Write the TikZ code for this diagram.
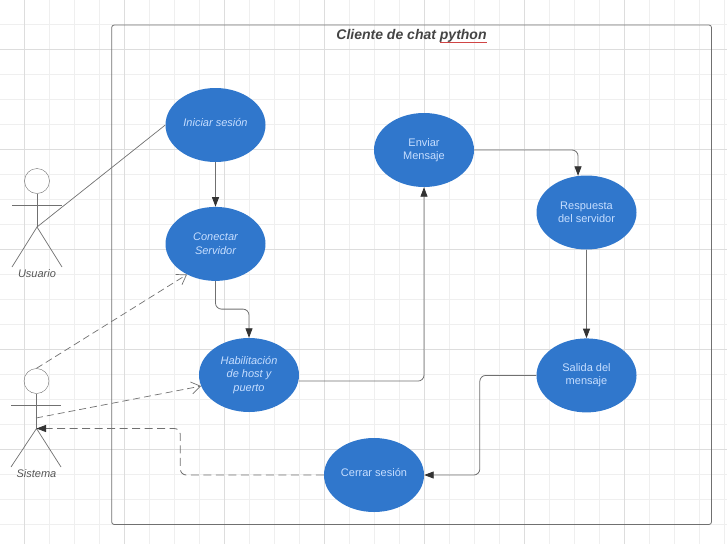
\documentclass[tikz,border=0pt]{standalone}
\usepackage{fontspec}
\setmainfont{Liberation Sans}
\usetikzlibrary{arrows.meta, positioning, shapes.geometric}
\definecolor{casoazul}{HTML}{3077CC}
\definecolor{casotexto}{HTML}{C6DEFF}
\definecolor{linea}{HTML}{707070}
\definecolor{punta}{HTML}{333333}
\definecolor{rotulo}{HTML}{555555}
\definecolor{titulo}{HTML}{444444}
\definecolor{subraya}{HTML}{D04545}
\definecolor{rejilla}{HTML}{EFEFEF}
\definecolor{rejillab}{HTML}{DDDDDD}
\newsavebox{\cajasub}
\newcommand{\subrojo}[1]{\sbox{\cajasub}{#1}\rlap{\textcolor{subraya}{\rule[-4pt]{\wd\cajasub}{0.9pt}}}\usebox{\cajasub}}
\tikzset{
    %Define style for use cases
    caso/.style={
           ellipse,
           fill=casoazul,
           text=casotexto,
           inner sep=0pt,
           minimum width=100pt,
           minimum height=74pt,
           align=center,
           font=\fontsize{11}{13.4}\selectfont},
    casoi/.style={
           caso,
           font=\fontsize{11}{13.4}\selectfont\itshape},
    % Define actor styles
    cabeza/.style={
           circle,
           draw=linea,
           inner sep=0pt,
           minimum size=25pt},
    actor/.style={
           draw=linea,
           line width=0.7pt},
    rotact/.style={
           text=rotulo,
           font=\fontsize{11}{13}\selectfont\itshape},
    % Define arrow styles
    flecha/.style={
           draw=linea,
           line width=0.8pt,
           rounded corners=6pt,
           -{Triangle[length=9.5pt,width=7pt,color=punta]}},
    abierta/.style={
           draw=linea,
           line width=0.7pt,
           dash pattern=on 7pt off 4pt,
           -{Straight Barb[length=9pt,width=12pt,color=linea]}},
    retorno/.style={
           flecha,
           dash pattern=on 8pt off 4.5pt}
}
\begin{document}
\begin{tikzpicture}[x=1pt, y=-1pt]
	\useasboundingbox (0,0) rectangle (727,544);
	%
	% rejilla
	%
	\foreach \gx in {24.5,49.5,...,724.5}
		\draw[rejilla, line width=1pt] (\gx,0) -- (\gx,544);
	\foreach \gy in {24.5,49.5,...,524.5}
		\draw[rejilla, line width=1pt] (0,\gy) -- (727,\gy);
	\foreach \gx in {24.5,124.5,...,624.5}
		\draw[rejillab, line width=1pt] (\gx,0) -- (\gx,544);
	\foreach \gy in {49.5,149.5,...,449.5}
		\draw[rejillab, line width=1pt] (0,\gy) -- (727,\gy);
	%
	% marco
	%
	\draw[linea, line width=0.8pt, rounded corners=2.5pt] (111.7,25) rectangle (711.5,524.5);
	\node[font=\fontsize{14}{16}\selectfont\bfseries\itshape, text=titulo] (tit) at (411.5,36) {Cliente de chat \subrojo{python}};
	%
	% casos
	%
	\node[casoi, text depth=5pt] (ini) at (215.5,125) {Iniciar sesión};
	\node[casoi, below=44.5pt of ini] (con) {Conectar\\Servidor};
	\node[casoi] (hab) at (249,375) {Habilitación\\de host y\\puerto};
	\node[caso] (env) at (424,150) {Enviar\\Mensaje};
	\node[caso] (res) at (586.5,212.5) {Respuesta\\del servidor};
	\node[caso, below=88.5pt of res] (sal) {Salida del\\mensaje};
	\node[caso, text depth=5pt] (cer) at (374,475) {Cerrar sesión};
	%
	% actores
	%
	\node[cabeza] (cabu) at (37,181) {};
	\coordinate (cadu) at (37,227);
	\draw[actor] (cabu) -- (cadu);
	\draw[actor] (12,205.5) -- (62,205.5);
	\draw[actor] (12,267) -- (cadu) -- (62,267);
	\node[rotact] (usu) at (37,274) {Usuario};
	\node[cabeza] (cabs) at (36.5,381) {};
	\coordinate (cads) at (36.5,428.5);
	\coordinate (toss) at (36,418);
	\draw[actor] (cabs) -- (cads);
	\draw[actor] (11,405.5) -- (61,405.5);
	\draw[actor] (11,467) -- (cads) -- (61,467);
	\node[rotact] (sis) at (36.5,474) {Sistema};
	%
	% enlaces
	%
	\draw[actor] (cadu) -- (ini.west);
	\draw[abierta] (cabs.north) -- (con.227);
	\draw[abierta] (toss) -- (hab.193);
	\draw[flecha] (ini) -- (con);
	\draw[flecha] (con.south) -- ++(0,28) -| (hab.north);
	\draw[flecha] (hab.-7) -| (env.south);
	\draw[flecha] (env.east) -| (res.103);
	\draw[flecha] (res) -- (sal);
	\draw[flecha] (sal.west) -- ++(-56.5,0) |- (cer.east);
	\draw[retorno] (cer.west) -- ++(-143.5,0) |- (cads);
	\end{tikzpicture}
\end{document}
